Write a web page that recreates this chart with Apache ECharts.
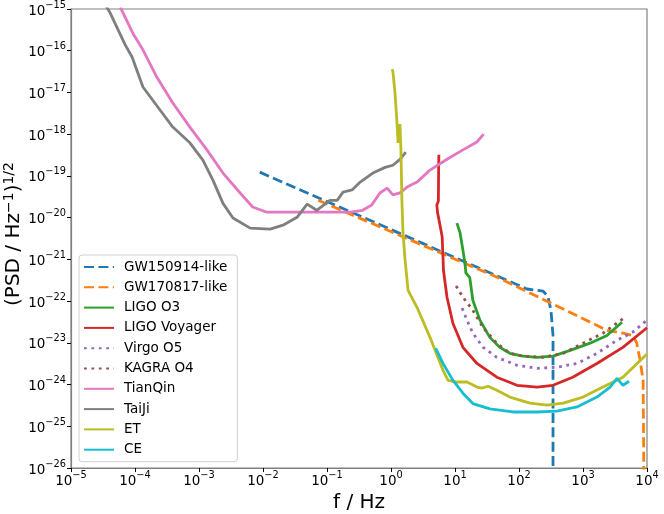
<!DOCTYPE html>
<html lang="en">
<head>
    <meta charset="utf-8">
    <title>ASD curves</title>
    <script src="https://cdn.jsdelivr.net/npm/echarts@6/dist/echarts.min.js"></script>
	<style>
		html, body{
			margin: 0;
			padding: 0;
			background: #fff;
		}
		#main{
			width: 664px;
			height: 514px;
		}
	</style>
</head>
<body>
<div id="main"></div>
<script type="text/javascript">
// 曲线数据 [f (Hz), sqrt(PSD) (Hz^-1/2)]
var gw150914 = [[8.9e-3,1.23e-19],[133,1.95e-22],[237,1.74e-22],[283,1.3e-22],[316,6.0e-23],[340,1.5e-23],[340,1e-27]];
var gw170817 = [[0.073,2.6e-20],[50,3.5e-22],[2370,2.0e-23],[4200,1.7e-23],[6000,1.5e-23],[6900,1.0e-23],[7800,3.8e-24],[8700,1.26e-24],[9000,1e-27]];
var ligoO3 = [[10.7,7.4e-21],[12,4.3e-21],[13.3,1.66e-21],[14.3,8.1e-22],[14.8,4.7e-22],[17,3.7e-22],[19,1.05e-22],[24.5,3.5e-23],[35,1.35e-23],[50,7.8e-24],[72,5.6e-24],[115,4.8e-24],[191,4.5e-24],[340,4.8e-24],[630,6.6e-24],[1290,9.8e-24],[2370,1.5e-23],[4070,3.1e-23]];
var voyager = [[5.6,3.2e-19],[5.55,1.6e-19],[5.5,2.5e-20],[5.2,2.0e-20],[5.35,1.3e-20],[5.9,6e-21],[6.3,3.5e-21],[6.5,1.1e-21],[6.6,5.5e-22],[7.5,1.24e-22],[9.3,2.9e-23],[13.3,7.8e-24],[22,3.2e-24],[45,1.5e-24],[93,9.6e-25],[191,8.7e-25],[340,9.6e-25],[690,1.5e-24],[1650,3.2e-24],[4200,7.8e-24],[10000,2.3e-23]];
var virgoO5 = [[12.9,6.8e-23],[15.4,3.5e-23],[19,1.7e-23],[27.5,7.8e-24],[45,4.5e-24],[93,2.9e-24],[191,2.45e-24],[390,2.6e-24],[805,3.2e-24],[1650,5.6e-24],[3400,1.15e-23],[6000,1.8e-23],[10000,3.5e-23]];
var kagraO4 = [[10.4,2.3e-22],[13.3,1.24e-22],[19,6.0e-23],[27.5,2.3e-23],[45,9.8e-24],[72,5.6e-24],[115,4.8e-24],[237,4.5e-24],[490,5.6e-24],[1000,9.8e-24],[2050,1.7e-23],[4530,4.1e-23]];
var tianqin = [[5.9e-5,1.1e-15],[9.3e-5,2.6e-16],[1.33e-4,1.05e-16],[2.2e-4,2.3e-17],[3.9e-4,5.6e-18],[7.2e-4,1.48e-18],[1.33e-3,4.2e-19],[2.37e-3,1.17e-19],[4.4e-3,3.9e-20],[6.9e-3,1.8e-20],[1.15e-2,1.35e-20],[0.111,1.35e-20],[0.23,1.35e-20],[0.36,1.5e-20],[0.50,2.0e-20],[0.67,3.9e-20],[0.87,5.1e-20],[1.07,3.5e-20],[1.38,3.9e-20],[1.78,5.4e-20],[2.55,7.1e-20],[4.07,1.38e-19],[7.5,2.5e-19],[13.3,4.2e-19],[22,6.5e-19],[28,1.0e-18]];
var taiji = [[3.5e-5,1.2e-15],[4.1e-5,8e-16],[7.0e-5,1.4e-16],[9.0e-5,7.1e-17],[1.33e-4,1.35e-17],[2.46e-4,3.8e-18],[3.9e-4,1.48e-18],[7.2e-4,6.2e-19],[1.15e-3,2.4e-19],[1.65e-3,7.9e-20],[2.37e-3,2.2e-20],[3.4e-3,9.8e-21],[6.3e-3,5.6e-21],[1.29e-2,5.3e-21],[2.05e-2,6.6e-21],[3.4e-2,1.02e-20],[4.9e-2,2.1e-20],[6.9e-2,1.5e-20],[0.111,2.6e-20],[0.144,2.6e-20],[0.178,4.1e-20],[0.246,4.6e-20],[0.33,7.1e-20],[0.52,1.17e-19],[0.81,1.6e-19],[1.07,1.8e-19],[1.38,2.5e-19],[1.7,3.7e-19]];
var et = [[1.04,3.6e-17],[1.07,3.2e-17],[1.155,9.8e-18],[1.24,1.86e-18],[1.29,6.2e-19],[1.38,1.74e-18],[1.43,4.2e-19],[1.48,2.6e-20],[1.54,4.3e-21],[1.65,1.07e-21],[1.72,5.5e-22],[1.85,1.8e-22],[2.55,7.1e-23],[4.07,1.35e-23],[6.5,2.2e-24],[7.8,1.26e-24],[10.7,1.15e-24],[15.4,1.15e-24],[22,8.7e-25],[26,8.2e-25],[33,9.1e-25],[45,7.3e-25],[72,5.0e-25],[148,3.6e-25],[274,3.2e-25],[490,3.6e-25],[1000,5.0e-25],[2050,8.7e-25],[4200,1.5e-24],[10000,5.4e-24]];
var ce = [[5.0,7.4e-24],[6.5,3.2e-24],[9.3,1.26e-24],[13.3,6.2e-25],[19,3.5e-25],[35,2.6e-25],[80,2.2e-25],[191,2.2e-25],[390,2.3e-25],[805,2.9e-25],[1650,5.0e-25],[2650,8.7e-25],[3400,1.4e-24],[4200,9.6e-25],[5250,1.2e-24]];

var names = ['GW150914-like','GW170817-like','LIGO O3','LIGO Voyager','Virgo O5','KAGRA O4','TianQin','TaiJi','ET','CE'];
var colors = ['#1f77b4','#ff7f0e','#2ca02c','#d62728','#9467bd','#8c564b','#e377c2','#7f7f7f','#bcbd22','#17becf'];
var dashes = [[10,4.4],[10,4.4],'solid','solid',[2.8,4.6],[2.8,4.6],'solid','solid','solid','solid'];
var curves = [gw150914,gw170817,ligoO3,voyager,virgoO5,kagraO4,tianqin,taiji,et,ce];

// y轴范围 10^-26 ~ 10^-15；echarts 对极小数取整会丢掉最小刻度，所以 y 以 1e-20 为单位画
var Y_EXP = -20;
var Y_UNIT = 1e-20;

var FONT = 'DejaVu Sans';

function powLabel(v, shift){
	var e = Math.round(Math.log(v)/Math.LN10) + (shift||0);
	return '{b|10}{s|' + (e<0 ? '\u2212'+(-e) : e) + '}';
}

var myChart = echarts.init(document.getElementById('main'), null, {renderer:'canvas'});

var series = [];
for(var i=0;i<curves.length;i++){
	series.push({
		name: names[i],
		type: 'line',
		data: curves[i].map(function(p){ return [p[0], p[1]/Y_UNIT]; }),
		symbol: 'none',
		clip: true,
		z: 2 + i,
		lineStyle: {
			color: colors[i],
			width: 2.8,
			type: dashes[i],
			cap: 'butt'
		},
		itemStyle: {color: colors[i]}
	});
}

var tickRich = {
	b: {fontFamily: FONT, fontSize: 13.5, color: '#000', lineHeight: 18, verticalAlign: 'bottom'},
	s: {fontFamily: FONT, fontSize: 9.8, color: '#000', lineHeight: 10, verticalAlign: 'top'}
};

var option = {
	animation: false,
	backgroundColor: '#fff',
	grid: {
		left: 71, right: 17, top: 9, bottom: 46,
		outerBoundsMode: 'none',
		containLabel: false,
		show: true,
		borderColor: '#808080',
		borderWidth: 1.2
	},
	legend: {
		orient: 'vertical',
		left: 79,
		top: 255,
		padding: [5, 10, 5, 4],
		itemWidth: 30,
		itemHeight: 14,
		itemGap: 6.3,
		backgroundColor: 'rgba(255,255,255,0.8)',
		borderColor: '#d0d0d0',
		borderWidth: 1,
		borderRadius: 3,
		itemStyle: {opacity: 0},
		textStyle: {fontFamily: FONT, fontSize: 13.5, color: '#000', padding: [0,0,0,5]},
		data: names
	},
	// y轴标题用 graphic 文字
	graphic: [{
		type: 'text',
		x: 13,
		y: 234,
		rotation: Math.PI / 2,
		style: {
			text: '{n|(PSD / Hz}{s|\u22121}{n|)}{s|1/2}',
			align: 'center',
			verticalAlign: 'middle',
			rich: {
				n: {fontFamily: FONT, fontSize: 20, fill: '#000', lineHeight: 22, verticalAlign: 'bottom'},
				s: {fontFamily: FONT, fontSize: 14, fill: '#000', lineHeight: 12, verticalAlign: 'top'}
			}
		}
	}],
	xAxis: {
		type: 'log',
		logBase: 10,
		min: 1e-5,
		max: 1e4,
		interval: 1,
		name: 'f / Hz',
		nameLocation: 'middle',
		nameGap: 17,
		nameTextStyle: {fontFamily: FONT, fontSize: 20, color: '#000'},
		splitLine: {show: false},
		axisLine: {lineStyle: {color: '#808080', width: 1.2}},
		axisTick: {length: 4, lineStyle: {color: '#000'}},
		axisLabel: {
			margin: 2,
			formatter: function(v){ return powLabel(v, 0); },
			rich: tickRich
		}
	},
	yAxis: {
		type: 'log',
		logBase: 10,
		min: 1e-26/Y_UNIT,
		max: 1e-15/Y_UNIT,
		interval: 1,
		splitLine: {show: false},
		axisLine: {lineStyle: {color: '#808080', width: 1.2}},
		axisTick: {length: 4, lineStyle: {color: '#000'}},
		axisLabel: {
			margin: 5,
			formatter: function(v){ return powLabel(v, Y_EXP); },
			rich: tickRich
		}
	},
	series: series
};

myChart.setOption(option);
window.addEventListener("resize", () => { myChart.resize();});
</script>
</body>
</html>
